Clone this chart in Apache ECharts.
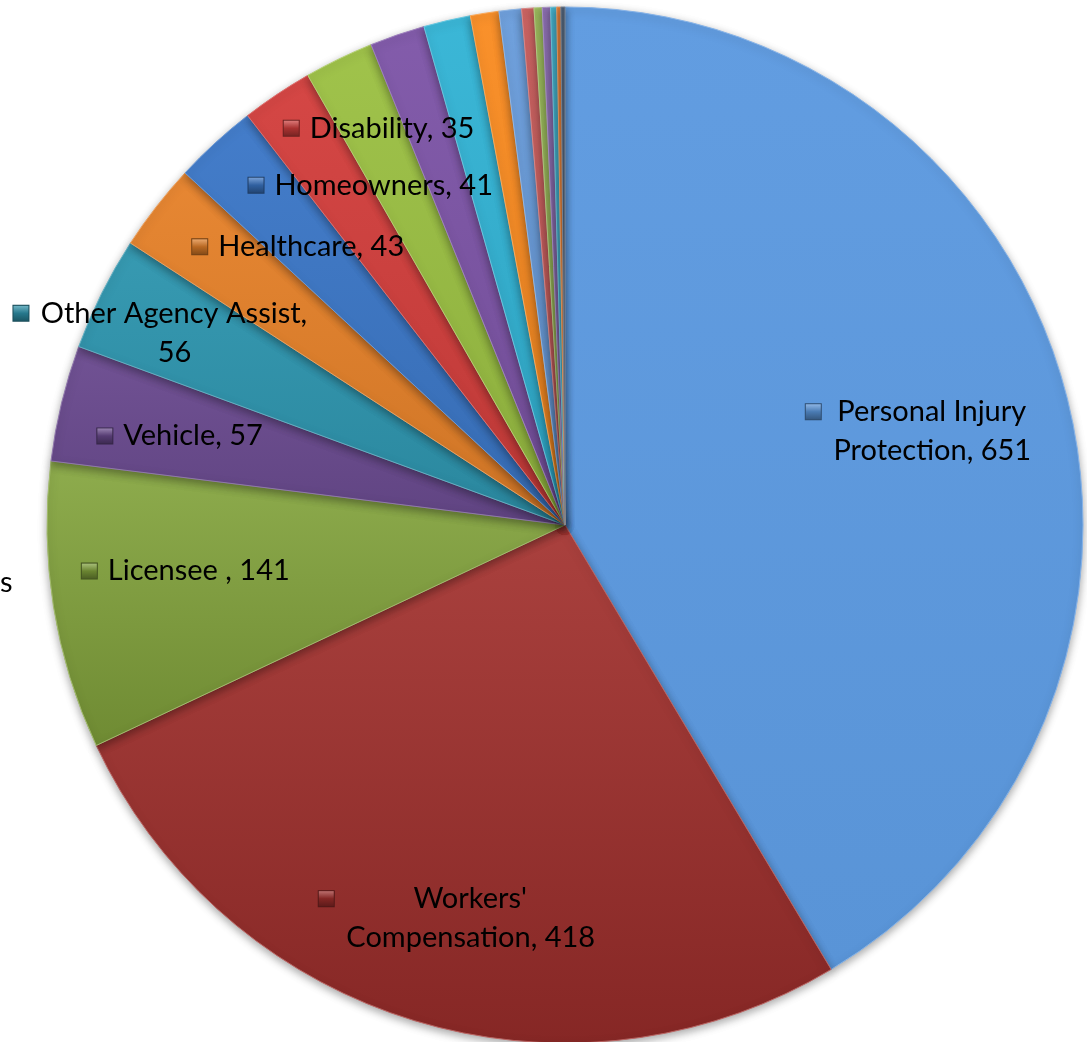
<!DOCTYPE html>
<html>
<head>
<meta charset="utf-8">
<script src="https://cdn.jsdelivr.net/npm/echarts@6/dist/echarts.min.js"></script>
<style>html,body{margin:0;padding:0;background:#fff}#c{width:1087px;height:1042px}</style>
</head>
<body>
<div id="c"></div>
<script>
// ---- data ----
var categories = ['Personal Injury Protection', "Workers' Compensation", 'Licensee ', 'Vehicle',
  'Other Agency Assist', 'Healthcare', 'Homeowners', 'Disability',
  'Other 9', 'Other 10', 'Other 11', 'Other 12', 'Other 13', 'Other 14',
  'Other 15', 'Other 16', 'Other 17', 'Other 18', 'Other 19'];
var values = [651, 418, 141, 57, 56, 43, 41, 35, 34, 27, 23, 14, 11, 6, 4, 4, 3, 2, 2];
var showLabel = [true, true, true, true, true, true, true, true,
  false, false, false, false, false, false, false, false, false, false, false];
// words on the first label line (0 = single line)
var firstLineWords = [2, 1, 0, 0, 3, 0, 0, 0];

// ---- styles / layout ----
var colors = ['#5D9AE0', '#A3302D', '#84A53D', '#6B4B90', '#2F96AF', '#E6822A', '#3C78C8', '#D33F3D',
  '#9CC144', '#7E55A8', '#33B4D5', '#FA8C22', '#6A9DDC', '#CC5F5E', '#9BBB59', '#8A6BB0', '#3FB0CC', '#E07A30', '#44546A'];
var gradTop = [1.03, 1.08, 1.08, 1.04, 1.04, 1.04, 1.04, 1.04, 1.04, 1.04, 1.04, 1.04, 1.04, 1.04, 1.04, 1.04, 1.04, 1.04, 1.04];
var gradBot = [0.96, 0.82, 0.84, 0.9, 0.9, 0.9, 0.9, 0.9, 0.9, 0.9, 0.9, 0.9, 0.9, 0.9, 0.9, 0.9, 0.9, 0.9, 0.9];
var CX = 565, CY = 525, R = 518;
var labelPos = [[0.683, -0.181], [-0.208, 0.759], [-0.732, 0.089], [-0.743, -0.172],
  [-0.780, -0.371], [-0.515, -0.537], [-0.375, -0.656], [-0.359, -0.766]];
var FONT = 'Lato';
var FSIZE = 29;

function shade(hex, f) {
  var n = parseInt(hex.slice(1), 16);
  var r = (n >> 16) & 255, g = (n >> 8) & 255, b = n & 255;
  function c(v) { v = f < 1 ? v * f : v + (255 - v) * (f - 1); return Math.max(0, Math.min(255, Math.round(v))); }
  return 'rgb(' + c(r) + ',' + c(g) + ',' + c(b) + ')';
}

var ctx = document.createElement('canvas').getContext('2d');
ctx.font = FSIZE + 'px ' + FONT;
function tw(s) { return Math.ceil(ctx.measureText(s).width); }

var rich = {
  g: { width: 11 },
  e: { width: 16 },
  t: { fontFamily: FONT, fontSize: FSIZE, color: '#000', lineHeight: 39 }
};
var labelText = [];
categories.forEach(function (name, i) {
  var txt = name + ', ' + values[i];
  rich['m' + i] = {
    width: 15, height: 15,
    backgroundColor: {
      type: 'linear', x: 0, y: 0, x2: 0, y2: 1,
      colorStops: [{ offset: 0, color: shade(colors[i], 1.35) }, { offset: 0.5, color: shade(colors[i], 0.8) }, { offset: 1, color: shade(colors[i], 0.55) }]
    },
    borderColor: shade(colors[i], 0.5), borderWidth: 1
  };
  var k = firstLineWords[i] || 0;
  if (k > 0) {
    var words = txt.split(' ');
    var l1 = words.slice(0, k).join(' '), l2 = words.slice(k).join(' ');
    var w = Math.max(tw(l1), tw(l2)) + 2;
    rich['c' + i] = { width: w, align: 'center', fontFamily: FONT, fontSize: FSIZE, color: '#000', lineHeight: 39 };
    labelText.push('{m' + i + '|}{g|}{c' + i + '|' + l1 + '}\n{e|}{g|}{c' + i + '|' + l2 + '}');
  } else {
    labelText.push('{m' + i + '|}{g|}{t|' + txt + '}');
  }
});

var data = categories.map(function (name, i) {
  var c = colors[i];
  return {
    name: name,
    value: values[i],
    label: { show: showLabel[i] },
    itemStyle: {
      color: {
        type: 'linear', x: 0, y: 0, x2: 0, y2: 1,
        colorStops: [{ offset: 0, color: shade(c, gradTop[i]) }, { offset: 1, color: shade(c, gradBot[i]) }]
      },
      borderColor: shade(c, 1.25)
    }
  };
});

var chart = echarts.init(document.getElementById('c'), null, { renderer: 'canvas' });
chart.setOption({
  animation: false,
  backgroundColor: '#fff',
  graphic: [{
    type: 'text', left: 0, top: 568,
    style: { text: 's', font: FSIZE + 'px ' + FONT, fill: '#000' }
  }],
  series: [{
    type: 'pie',
    center: [CX, CY],
    radius: R,
    startAngle: 90,
    clockwise: true,
    avoidLabelOverlap: false,
    data: data,
    itemStyle: {
      borderWidth: 1,
      shadowBlur: 8,
      shadowColor: 'rgba(0,0,0,0.35)',
      shadowOffsetY: 3
    },
    label: {
      position: 'inside',
      formatter: function (p) { return labelText[p.dataIndex]; },
      rich: rich
    },
    labelLine: { show: false },
    labelLayout: function (p) {
      var lp = labelPos[p.dataIndex];
      if (!lp) return {};
      return { x: CX + lp[0] * R, y: CY + lp[1] * R, align: 'center', verticalAlign: 'middle' };
    },
    emphasis: { disabled: true }
  }]
});
</script>
</body>
</html>
